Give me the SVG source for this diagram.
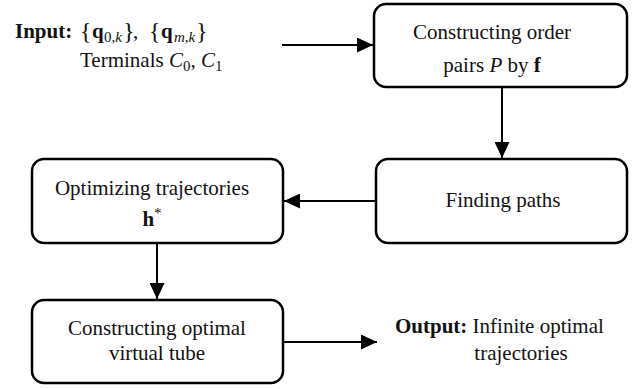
<svg xmlns="http://www.w3.org/2000/svg" width="644" height="389" viewBox="0 0 644 389">
<style>
.box{fill:#fff;stroke:#000;stroke-width:2.5}
.edge{fill:none;stroke:#000;stroke-width:2}
text{font-family:"Liberation Serif","Times New Roman",serif;font-size:21px;fill:#111}
.c{text-anchor:middle}
.b{font-weight:bold}
.i{font-style:italic}
.s{font-size:15px}
.br{font-size:24px}
</style>
<defs>
<marker id="ah" markerUnits="userSpaceOnUse" markerWidth="16" markerHeight="15" refX="16" refY="7.5" orient="auto">
<path d="M0,0 L16,7.5 L0,15 z" fill="#000"/>
</marker>
</defs>
<rect width="644" height="389" fill="#fff"/>
<g id="connectors">
<line class="edge" x1="282" y1="45" x2="373" y2="45" marker-end="url(#ah)"/>
<line class="edge" x1="502" y1="87" x2="502" y2="158" marker-end="url(#ah)"/>
<line class="edge" x1="376" y1="201" x2="284" y2="201" marker-end="url(#ah)"/>
<line class="edge" x1="157" y1="243" x2="157" y2="299" marker-end="url(#ah)"/>
<line class="edge" x1="283" y1="342" x2="377" y2="342" marker-end="url(#ah)"/>
</g>
<g id="input">
<text x="15" y="38"><tspan class="b">Input:</tspan><tspan class="br" x="80" y="39">{</tspan><tspan class="b" x="92" y="38">q</tspan><tspan class="s" x="104" y="42">0,<tspan class="i">k</tspan></tspan><tspan class="br" x="123" y="39">}</tspan><tspan x="133" y="38">,</tspan><tspan class="br" x="149" y="39">{</tspan><tspan class="b" x="161" y="38">q</tspan><tspan class="s i" x="174" y="42">m</tspan><tspan class="s">,</tspan><tspan class="s i">k</tspan><tspan class="br" x="196" y="39">}</tspan></text>
<text x="80" y="67">Terminals <tspan class="i">C</tspan><tspan class="s" dy="4">0</tspan><tspan dy="-4">, </tspan><tspan class="i">C</tspan><tspan class="s" dy="4">1</tspan></text>
</g>
<g id="node-order">
<rect class="box" x="374" y="4" width="253" height="83" rx="12"/>
<text class="c" x="492" y="39">Constructing order</text>
<text class="c" x="492" y="72">pairs <tspan class="i">P</tspan> by <tspan class="b">f</tspan></text>
</g>
<g id="node-paths">
<rect class="box" x="376" y="159" width="251" height="84" rx="12"/>
<text class="c" x="503" y="207">Finding paths</text>
</g>
<g id="node-optimize">
<rect class="box" x="32" y="159" width="251" height="84" rx="12"/>
<text class="c" x="152" y="195">Optimizing trajectories</text>
<text class="c" x="152" y="226"><tspan class="b">h</tspan><tspan class="s" dy="-8">*</tspan></text>
</g>
<g id="node-tube">
<rect class="box" x="32" y="300" width="251" height="83" rx="12"/>
<text class="c" x="157" y="335">Constructing optimal</text>
<text class="c" x="157" y="360">virtual tube</text>
</g>
<g id="output">
<text x="395" y="333"><tspan class="b">Output:</tspan> Infinite optimal</text>
<text class="c" x="521" y="360">trajectories</text>
</g>
</svg>
